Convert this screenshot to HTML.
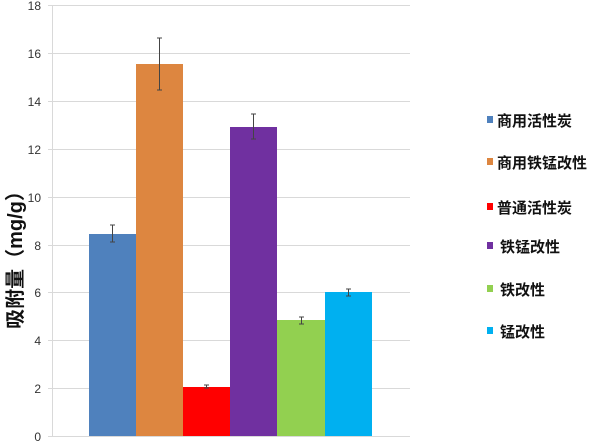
<!DOCTYPE html><html><head><meta charset="utf-8"><style>body{margin:0;background:#fff}svg{display:block}</style></head><body>
<svg width="600" height="442" xmlns="http://www.w3.org/2000/svg" font-family="Liberation Sans, Noto Sans CJK SC, sans-serif">
<g stroke="#d9d9d9" stroke-width="1">
<line x1="48" x2="410" y1="5.5" y2="5.5"/><line x1="48" x2="410" y1="53.5" y2="53.5"/><line x1="48" x2="410" y1="101.5" y2="101.5"/><line x1="48" x2="410" y1="149.5" y2="149.5"/><line x1="48" x2="410" y1="197.5" y2="197.5"/><line x1="48" x2="410" y1="245.5" y2="245.5"/><line x1="48" x2="410" y1="292.5" y2="292.5"/><line x1="48" x2="410" y1="340.5" y2="340.5"/><line x1="48" x2="410" y1="388.5" y2="388.5"/><line x1="48" x2="410" y1="436.5" y2="436.5"/>
<line x1="52.5" x2="52.5" y1="5" y2="436"/>
</g>
<g font-size="12" fill="#333" text-anchor="end">
<text x="41" y="10">18</text><text x="41" y="58">16</text><text x="41" y="106">14</text><text x="41" y="154">12</text><text x="41" y="202">10</text><text x="41" y="250">8</text><text x="41" y="297">6</text><text x="41" y="345">4</text><text x="41" y="393">2</text><text x="41" y="441">0</text>
</g>
<rect x="89" y="234" width="47" height="202" fill="#4f81bd"/>
<rect x="136" y="64" width="47" height="372" fill="#dd8640"/>
<rect x="183" y="387" width="47" height="49" fill="#ff0000"/>
<rect x="230" y="127" width="47" height="309" fill="#7030a0"/>
<rect x="277" y="320" width="48" height="116" fill="#92d050"/>
<rect x="325" y="292" width="47" height="144" fill="#00b0f0"/>
<g stroke="#444" stroke-width="1">
<path d="M112.5 242V225M110 242h5M110 225h5"/>
<path d="M159.5 90V38M157 90h5M157 38h5"/>
<path d="M206.5 388V385M204 388h5M204 385h5"/>
<path d="M253.5 139V114M251 139h5M251 114h5"/>
<path d="M301.5 324V317M299 324h5M299 317h5"/>
<path d="M348.5 296V289M346 296h5M346 289h5"/>
</g>
<text transform="translate(22,255) rotate(-90)" text-anchor="middle" font-size="20" font-weight="bold" fill="#111">吸附量（mg/g）</text>
<g font-size="15" font-weight="bold" fill="#111">
<rect x="487" y="116" width="6" height="7" fill="#4f81bd"/><text x="497" y="126">商用活性炭</text>
<rect x="487" y="158" width="6" height="7" fill="#dd8640"/><text x="497" y="168">商用铁锰改性</text>
<rect x="487" y="203" width="6" height="7" fill="#ff0000"/><text x="497" y="213">普通活性炭</text>
<rect x="487" y="242" width="6" height="7" fill="#7030a0"/><text x="500" y="252">铁锰改性</text>
<rect x="487" y="285" width="6" height="7" fill="#92d050"/><text x="500" y="295">铁改性</text>
<rect x="487" y="327" width="6" height="7" fill="#00b0f0"/><text x="500" y="337">锰改性</text>
</g>
</svg></body></html>
